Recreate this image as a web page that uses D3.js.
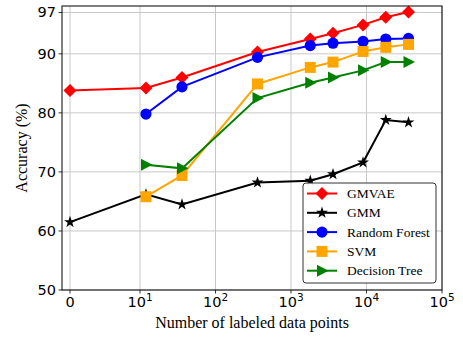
<!DOCTYPE html>
<html>
<head>
<meta charset="utf-8">
<script src="https://cdn.jsdelivr.net/npm/d3@7"></script>
<style>
  body { margin: 0; background: #fff; }
  svg { display: block; }
  .serif { font-family: 'Liberation Serif', 'Times New Roman', serif; }
  .sans { font-family: 'DejaVu Sans', sans-serif; }
</style>
</head>
<body>
<svg id="chart" width="463" height="337"></svg>
<script>
// labeled data points
const sizes = [0, 12, 36, 360, 1800, 3600, 9000, 18000, 36000];

const gmvae = [83.8, 84.2, 86.0, 90.3, 92.5, 93.5, 94.9, 96.2, 97.1];
const gmm = [61.5, 66.2, 64.5, 68.2, 68.5, 69.6, 71.6, 78.8, 78.4];
const randomForest = [null, 79.8, 84.4, 89.4, 91.4, 91.8, 92.1, 92.5, 92.6];
const svmAcc = [null, 65.8, 69.4, 84.9, 87.7, 88.6, 90.4, 91.1, 91.6];
const decisionTree = [null, 71.2, 70.6, 82.5, 85.1, 86.0, 87.2, 88.6, 88.6];

const yTicks = [50, 60, 70, 80, 90, 97];
const xTicks = [0, 10, 100, 1000, 10000, 100000];

const series = [
    { name: 'GMVAE', values: gmvae, color: '#ff0000', marker: 'diamond' },
    { name: 'GMM', values: gmm, color: '#000000', marker: 'star' },
    { name: 'Random Forest', values: randomForest, color: '#0000ff', marker: 'circle' },
    { name: 'SVM', values: svmAcc, color: '#ffa500', marker: 'square' },
    { name: 'Decision Tree', values: decisionTree, color: '#008000', marker: 'triangle' }
];

const m = { left: 62, right: 442, top: 6, bottom: 290 };
const linDecades = 0.927;

// symlog-ish transform: linear below 10, log10 above
const tx = v => v <= 10 ? linDecades * v / 10 : linDecades + Math.log10(v / 10);

const xScale = d3.scaleLinear().domain([-0.106, linDecades + 4]).range([m.left, m.right]);
const yScale = d3.scaleLinear().domain([50, 98.1]).range([m.bottom, m.top]);
const X = v => xScale(tx(v));

const svg = d3.select('#chart');

// grid
const grid = svg.append('g');
grid.selectAll('.gy').data(yTicks).enter().append('line')
    .attr('x1', m.left).attr('x2', m.right)
    .attr('y1', d => yScale(d)).attr('y2', d => yScale(d))
    .attr('stroke', '#c8c8c8').attr('stroke-width', 1);
grid.selectAll('.gx').data(xTicks).enter().append('line')
    .attr('x1', d => X(d)).attr('x2', d => X(d))
    .attr('y1', m.top).attr('y2', m.bottom)
    .attr('stroke', '#c8c8c8').attr('stroke-width', 1);

// y axis ticks/labels
const yAx = svg.append('g');
yAx.selectAll('line').data(yTicks).enter().append('line')
    .attr('x1', m.left - 3.5).attr('x2', m.left)
    .attr('y1', d => yScale(d)).attr('y2', d => yScale(d))
    .attr('stroke', '#000').attr('stroke-width', 0.8);
yAx.selectAll('text').data(yTicks).enter().append('text')
    .attr('class', 'sans')
    .attr('x', m.left - 6).attr('y', d => yScale(d) + 5)
    .attr('text-anchor', 'end')
    .style('font-size', '14.5px')
    .text(d => d);

// x axis ticks/labels
const xAx = svg.append('g');
xAx.selectAll('line').data(xTicks).enter().append('line')
    .attr('x1', d => X(d)).attr('x2', d => X(d))
    .attr('y1', m.bottom).attr('y2', m.bottom + 3.5)
    .attr('stroke', '#000').attr('stroke-width', 0.8);
const xt = xAx.selectAll('text').data(xTicks).enter().append('text')
    .attr('class', 'sans')
    .attr('x', d => X(d)).attr('y', m.bottom + 17)
    .attr('text-anchor', 'middle')
    .style('font-size', '14.5px');
xt.each(function (d) {
    const t = d3.select(this);
    if (d === 0) { t.text('0'); return; }
    t.append('tspan').text('10');
    t.append('tspan').attr('dy', -6).style('font-size', '10.5px').text(Math.round(Math.log10(d)));
});

// axis labels
svg.append('text')
    .attr('class', 'serif')
    .attr('x', (m.left + m.right) / 2).attr('y', 328)
    .attr('text-anchor', 'middle')
    .style('font-size', '16px')
    .text('Number of labeled data points');
svg.append('text')
    .attr('class', 'serif')
    .attr('transform', `translate(27,${(m.top + m.bottom) / 2}) rotate(-90)`)
    .attr('text-anchor', 'middle')
    .style('font-size', '16px')
    .text('Accuracy (%)');

// markers
function markerPath(type) {
    if (type === 'diamond') return 'M0,-6.5L6.5,0L0,6.5L-6.5,0Z';
    if (type === 'square') return 'M-5.5,-5.5H5.5V5.5H-5.5Z';
    if (type === 'triangle') return 'M6.5,0L-5,-6L-5,6Z';
    if (type === 'circle') return d3.symbol(d3.symbolCircle, Math.PI * 5.6 * 5.6)();
    return d3.symbol(d3.symbolStar, 44)();
}

const line = d3.line()
    .defined(d => d.v != null)
    .x(d => X(d.x)).y(d => yScale(d.v));

const plot = svg.append('g');
series.forEach(s => {
    const pts = sizes.map((x, i) => ({ x: x, v: s.values[i] }));
    plot.append('path').datum(pts)
        .attr('d', line).attr('fill', 'none')
        .attr('stroke', s.color).attr('stroke-width', 2);
    plot.selectAll(null).data(pts.filter(p => p.v != null)).enter().append('path')
        .attr('transform', p => `translate(${X(p.x)},${yScale(p.v)})`)
        .attr('d', markerPath(s.marker))
        .attr('fill', s.color);
});

// frame
svg.append('rect')
    .attr('x', m.left).attr('y', m.top).attr('width', m.right - m.left).attr('height', m.bottom - m.top)
    .attr('fill', 'none').attr('stroke', '#000').attr('stroke-width', 1);

// legend
const lg = svg.append('g');
lg.append('rect')
    .attr('x', 303).attr('y', 183).attr('width', 133).attr('height', 100)
    .attr('rx', 3).attr('fill', '#fff').attr('fill-opacity', 0.9)
    .attr('stroke', '#333').attr('stroke-width', 1);
const items = lg.selectAll('g.item').data(series).enter().append('g')
    .attr('transform', (d, i) => `translate(0,${193.5 + i * 19.3})`);
items.append('line')
    .attr('x1', 307).attr('x2', 337).attr('y1', 0).attr('y2', 0)
    .attr('stroke', d => d.color).attr('stroke-width', 2);
items.append('path')
    .attr('transform', 'translate(322,0)')
    .attr('d', d => markerPath(d.marker))
    .attr('fill', d => d.color);
items.append('text')
    .attr('class', 'serif')
    .attr('x', 347).attr('y', 4.5)
    .style('font-size', '13.5px')
    .text(d => d.name);
</script>
</body>
</html>
